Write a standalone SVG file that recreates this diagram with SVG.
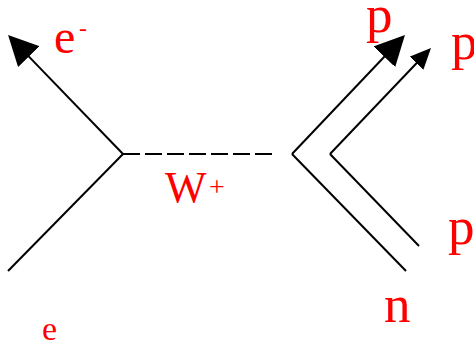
<svg xmlns="http://www.w3.org/2000/svg" width="474" height="343" viewBox="0 0 474 343">
<style>
.ln{stroke:#000;stroke-width:2;fill:none}
.dash{stroke-dasharray:17,5}
.lbl{font-family:"Liberation Serif","Times New Roman",serif;fill:#ff0000}
</style>
<defs>
<marker id="bigArrow" viewBox="0 0 30 30" refX="1" refY="15" markerWidth="30" markerHeight="30" orient="auto" markerUnits="userSpaceOnUse">
<path d="M0,0 L30,15 L0,30 z" fill="#000"/>
</marker>
<marker id="smallArrow" viewBox="0 0 21 19" refX="1" refY="9.5" markerWidth="21" markerHeight="19" orient="auto" markerUnits="userSpaceOnUse">
<path d="M0,0 L21,9.5 L0,19 z" fill="#000"/>
</marker>
</defs>
<rect width="474" height="343" fill="#fff"/>
<g id="connectors">
<line class="ln" x1="8" y1="271" x2="123" y2="154"/>
<line class="ln" x1="123" y1="154" x2="28.2" y2="55.9" marker-end="url(#bigArrow)"/>
<line class="ln dash" x1="123" y1="154" x2="272" y2="154"/>
<line class="ln" x1="406" y1="271" x2="292" y2="154"/>
<line class="ln" x1="292" y1="154" x2="385" y2="56" marker-end="url(#bigArrow)"/>
<line class="ln" x1="419" y1="246" x2="330" y2="154"/>
<line class="ln" x1="330" y1="154" x2="417.2" y2="62.5" marker-end="url(#smallArrow)"/>
</g>
<g id="label-e-minus"><text class="lbl" x="54" y="53" font-size="48">e</text><text class="lbl" x="79" y="36" font-size="24">-</text></g>
<g id="label-W-plus"><text class="lbl" x="165" y="202" font-size="44">W</text><text class="lbl" x="209" y="196" font-size="28">+</text></g>
<g id="label-p1"><text class="lbl" x="366" y="32" font-size="53">p</text></g>
<g id="label-p2"><text class="lbl" x="451" y="59" font-size="53">p</text></g>
<g id="label-p3"><text class="lbl" x="448" y="244" font-size="53">p</text></g>
<g id="label-n"><text class="lbl" x="384" y="322" font-size="53">n</text></g>
<g id="label-e"><text class="lbl" x="42" y="340" font-size="34">e</text></g>
</svg>
